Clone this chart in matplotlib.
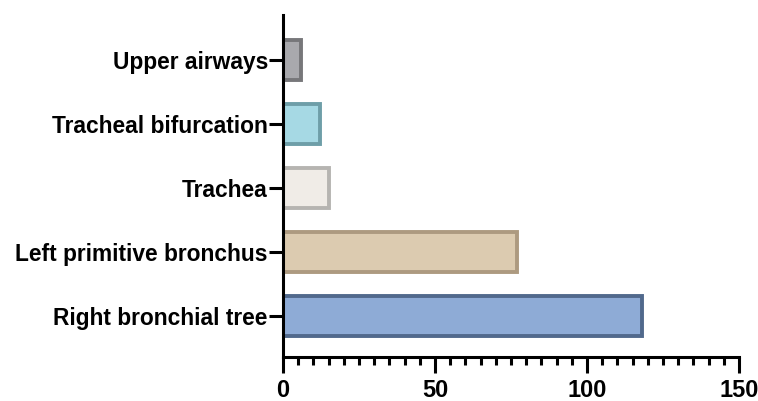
import matplotlib
matplotlib.use("Agg")
import matplotlib.pyplot as plt
from matplotlib.ticker import MultipleLocator

categories = ["Right bronchial tree", "Left primitive bronchus", "Trachea",
              "Tracheal bifurcation", "Upper airways"]
values = [118, 77, 15, 12, 6]
fill_colors = ["#8eabd6", "#dccbb0", "#f0ece7", "#a6d9e4", "#a9a9ad"]
edge_colors = ["#51698c", "#ad9a80", "#b6b4b1", "#6e9ea8", "#77777a"]

plt.rcParams['font.family'] = ['Liberation Sans', 'DejaVu Sans']

fig = plt.figure(figsize=(7.58, 4.01), dpi=100)
ax = fig.add_axes([0.3734, 0.1097, 0.6016, 0.853])

ypos = list(range(len(categories)))
ax.barh(ypos, values, height=0.62, color=fill_colors, edgecolor=edge_colors,
        linewidth=2.8, zorder=2)

ax.set_xlim(0, 150)
ax.set_ylim(-0.64, 4.7)
ax.set_yticks(ypos)
ax.set_yticklabels(categories, fontsize=16.4, fontweight='bold')
ax.xaxis.set_major_locator(MultipleLocator(50))
ax.xaxis.set_minor_locator(MultipleLocator(5))
for lbl in ax.get_xticklabels():
    lbl.set_fontsize(17)
    lbl.set_fontweight('bold')

for s in ['top', 'right']:
    ax.spines[s].set_visible(False)
for s in ['left', 'bottom']:
    ax.spines[s].set_linewidth(2.2)
    ax.spines[s].set_color('black')
    ax.spines[s].set_zorder(3)

ax.tick_params(axis='y', which='major', length=10, width=2.2, pad=1)
ax.tick_params(axis='x', which='major', length=11.5, width=2.2, pad=4)
ax.tick_params(axis='x', which='minor', length=6, width=2.2)

fig.savefig("out.png", dpi=100)
